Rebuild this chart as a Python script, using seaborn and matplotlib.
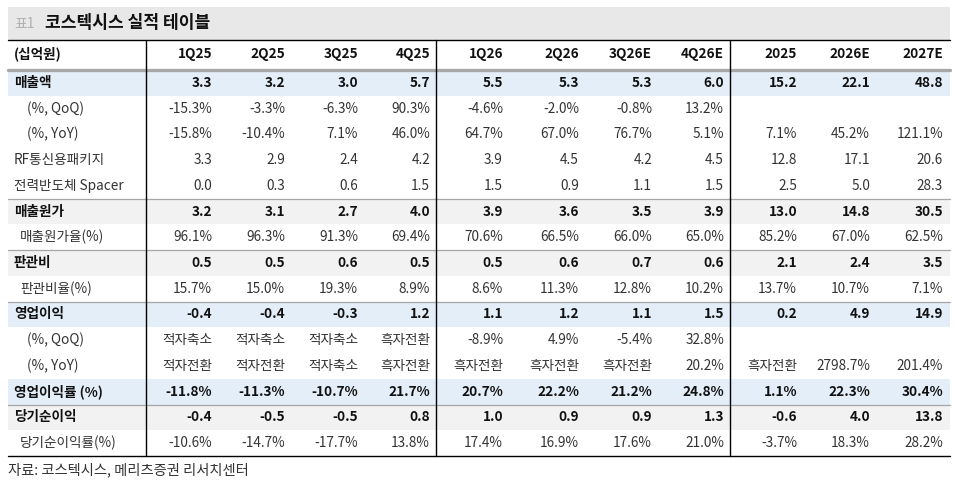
import numpy as np
import pandas as pd
import matplotlib
matplotlib.use("Agg")
import matplotlib.pyplot as plt
import seaborn as sns
from matplotlib.colors import ListedColormap

periods = ["1Q25", "2Q25", "3Q25", "4Q25", "1Q26", "2Q26", "3Q26E", "4Q26E",
           "2025", "2026E", "2027E"]

row_labels = ["매출액", "(%, QoQ)", "(%, YoY)", "RF통신용패키지", "전력반도체 Spacer",
              "매출원가", "매출원가율(%)", "판관비", "판관비율(%)",
              "영업이익", "(%, QoQ)", "(%, YoY)", "영업이익률 (%)",
              "당기순이익", "당기순이익률(%)"]

revenue = ["3.3", "3.2", "3.0", "5.7", "5.5", "5.3", "5.3", "6.0", "15.2", "22.1", "48.8"]
revenue_qoq = ["-15.3%", "-3.3%", "-6.3%", "90.3%", "-4.6%", "-2.0%", "-0.8%", "13.2%", "", "", ""]
revenue_yoy = ["-15.8%", "-10.4%", "7.1%", "46.0%", "64.7%", "67.0%", "76.7%", "5.1%",
               "7.1%", "45.2%", "121.1%"]
rf_package = ["3.3", "2.9", "2.4", "4.2", "3.9", "4.5", "4.2", "4.5", "12.8", "17.1", "20.6"]
spacer = ["0.0", "0.3", "0.6", "1.5", "1.5", "0.9", "1.1", "1.5", "2.5", "5.0", "28.3"]
cogs = ["3.2", "3.1", "2.7", "4.0", "3.9", "3.6", "3.5", "3.9", "13.0", "14.8", "30.5"]
cogs_ratio = ["96.1%", "96.3%", "91.3%", "69.4%", "70.6%", "66.5%", "66.0%", "65.0%",
              "85.2%", "67.0%", "62.5%"]
sga = ["0.5", "0.5", "0.6", "0.5", "0.5", "0.6", "0.7", "0.6", "2.1", "2.4", "3.5"]
sga_ratio = ["15.7%", "15.0%", "19.3%", "8.9%", "8.6%", "11.3%", "12.8%", "10.2%",
             "13.7%", "10.7%", "7.1%"]
op = ["-0.4", "-0.4", "-0.3", "1.2", "1.1", "1.2", "1.1", "1.5", "0.2", "4.9", "14.9"]
op_qoq = ["적자축소", "적자축소", "적자축소", "흑자전환", "-8.9%", "4.9%", "-5.4%", "32.8%",
          "", "", ""]
op_yoy = ["적자전환", "적자전환", "적자축소", "흑자전환", "흑자전환", "흑자전환", "흑자전환",
          "20.2%", "흑자전환", "2798.7%", "201.4%"]
op_margin = ["-11.8%", "-11.3%", "-10.7%", "21.7%", "20.7%", "22.2%", "21.2%", "24.8%",
             "1.1%", "22.3%", "30.4%"]
net_income = ["-0.4", "-0.5", "-0.5", "0.8", "1.0", "0.9", "0.9", "1.3", "-0.6", "4.0", "13.8"]
net_margin = ["-10.6%", "-14.7%", "-17.7%", "13.8%", "17.4%", "16.9%", "17.6%", "21.0%",
              "-3.7%", "18.3%", "28.2%"]

table = pd.DataFrame(
    [revenue, revenue_qoq, revenue_yoy, rf_package, spacer, cogs, cogs_ratio, sga,
     sga_ratio, op, op_qoq, op_yoy, op_margin, net_income, net_margin],
    index=row_labels, columns=periods)

# ---- styling per row: 0 white, 1 blue, 2 gray ----
row_shade = [1, 0, 0, 0, 0, 2, 0, 2, 0, 1, 0, 0, 1, 2, 0]
row_bold = [True, False, False, False, False, True, False, True, False,
            True, False, False, True, True, False]
label_indent = [14, 27, 27, 14, 14, 14, 20, 14, 20, 14, 27, 27, 14, 14, 20]
sep_before = [5, 7, 9, 13]

W, H = 955, 484
LEFT, RIGHT = 8, 950
TABLE_TOP, TABLE_BOTTOM = 70, 456
col_right = [212, 285, 358, 430, 503, 579, 652, 724, 797, 870, 943]
vlines = [146, 436, 730]
FS = 9.8

sns.set_theme(style="white")
plt.rcParams["font.family"] = ["Noto Sans CJK KR", "DejaVu Sans"]

fig = plt.figure(figsize=(W / 100, H / 100), dpi=100)

# row shading via a seaborn heatmap placed over the table body
bg_ax = fig.add_axes([LEFT / W, 1 - TABLE_BOTTOM / H,
                      (RIGHT - LEFT) / W, (TABLE_BOTTOM - TABLE_TOP) / H])
shade_cmap = ListedColormap(["#ffffff", "#e3eef9", "#f2f2f2"])
sns.heatmap(np.array(row_shade).reshape(-1, 1), cmap=shade_cmap, vmin=-0.5, vmax=2.5,
            cbar=False, xticklabels=False, yticklabels=False, linewidths=0, ax=bg_ax)
bg_ax.set_axis_off()

ax = fig.add_axes([0, 0, 1, 1], facecolor="none")
ax.set_xlim(0, W)
ax.set_ylim(H, 0)
ax.set_axis_off()

# title band
ax.fill_between([LEFT, RIGHT], 7, 40, color="#e8e8e8", lw=0, zorder=0)
ax.text(14, 24, "표1", fontsize=10, color="#b0b0b0", va="center", ha="left")
ax.text(45, 23.5, "코스텍시스 실적 테이블", fontsize=12.3, fontweight="bold",
        color="#111111", va="center", ha="left")

# header
ax.plot([LEFT, RIGHT], [40, 40], color="black", lw=1.0)
ax.text(14, 54, "(십억원)", fontsize=FS, fontweight="bold", color="#111111",
        va="center", ha="left")
for xr, p in zip(col_right, periods):
    ax.text(xr, 54, p, fontsize=FS, fontweight="bold", color="#111111",
            va="center", ha="right")
ax.plot([LEFT, RIGHT], [69.5, 69.5], color="#a8a8a8", lw=2.4)

# body
row_h = (TABLE_BOTTOM - TABLE_TOP) / len(row_labels)
for i, label in enumerate(table.index):
    yc = TABLE_TOP + (i + 0.5) * row_h
    weight = "bold" if row_bold[i] else "normal"
    color = "#111111" if row_bold[i] else "#333333"
    ax.text(label_indent[i], yc, label, fontsize=FS, fontweight=weight, color=color,
            va="center", ha="left")
    for xr, val in zip(col_right, table.iloc[i]):
        if val:
            ax.text(xr, yc, val, fontsize=FS, fontweight=weight, color=color,
                    va="center", ha="right")

for r in sep_before:
    y = TABLE_TOP + r * row_h
    ax.plot([LEFT, RIGHT], [y, y], color="#a6a6a6", lw=0.9)

ax.plot([LEFT, RIGHT], [TABLE_BOTTOM, TABLE_BOTTOM], color="black", lw=1.0)
for x in vlines:
    ax.plot([x, x], [40, TABLE_BOTTOM], color="black", lw=1.0)

ax.text(LEFT, 470, "자료: 코스텍시스, 메리츠증권 리서치센터", fontsize=10.3, color="#333333",
        va="center", ha="left")

fig.savefig("out.png", dpi=100)
